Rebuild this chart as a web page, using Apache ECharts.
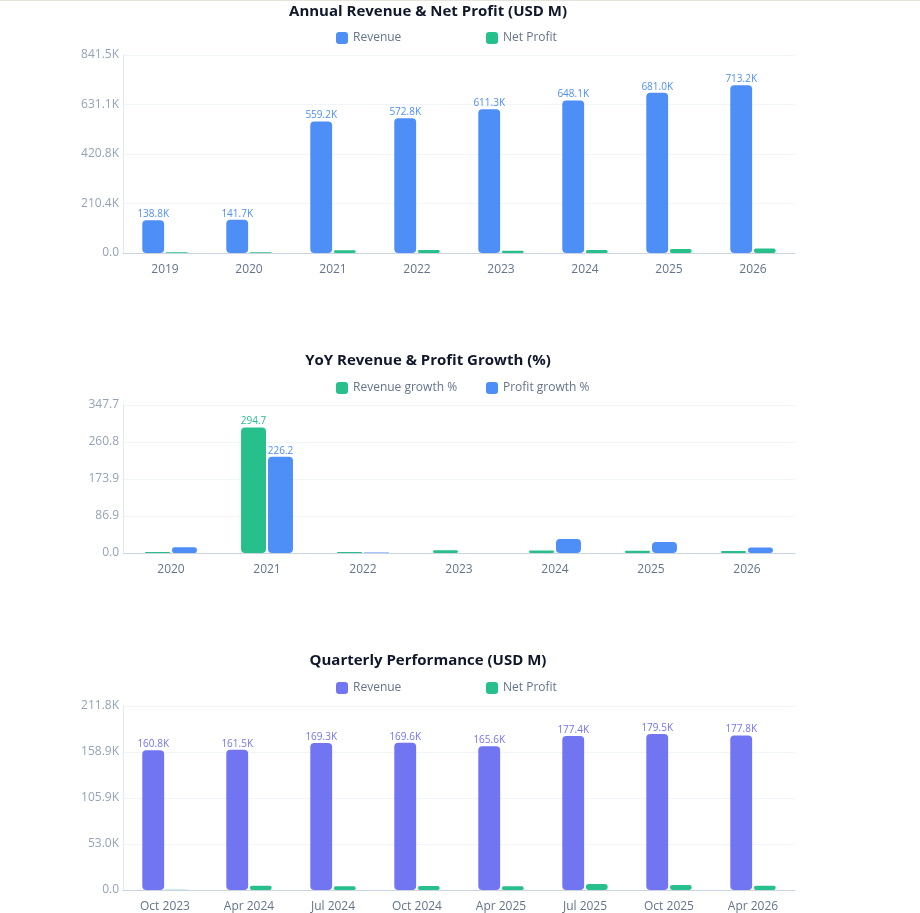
<!DOCTYPE html>
<html>
<head>
<meta charset="utf-8">
<script src="https://cdn.jsdelivr.net/npm/echarts@6/dist/echarts.min.js"></script>
<style>
  html, body { margin: 0; padding: 0; background: #fff; }
  body { border-top: 1px solid #e4e4dc; }
  #container { width: 856px; height: 912px; }
</style>
</head>
<body>
<div id="container"></div>
<script>
// annual figures (K)
var years = ['2019', '2020', '2021', '2022', '2023', '2024', '2025', '2026'];
var annualRevenue = [138.8, 141.7, 559.2, 572.8, 611.3, 648.1, 681.0, 713.16];
var annualProfit = [3.2, 3.6, 12.0, 12.3, 9.6, 13.2, 16.8, 19.2];

// year over year growth (%)
var growthYears = ['2020', '2021', '2022', '2023', '2024', '2025', '2026'];
var revenueGrowth = [2.1, 294.7, 2.4, 6.7, 6.0, 5.1, 4.7];
var profitGrowth = [13.3, 226.2, 1.0, -26.0, 33.0, 25.9, 13.0];

// quarterly figures (K)
var quarters = ['Oct 2023', 'Apr 2024', 'Jul 2024', 'Oct 2024', 'Apr 2025', 'Jul 2025', 'Oct 2025', 'Apr 2026'];
var quarterRevenue = [160.8, 161.5, 169.3, 169.6, 165.6, 177.4, 179.5, 177.8];
var quarterProfit = [0.4, 5.0, 4.2, 4.6, 4.2, 6.9, 5.7, 5.0];

var BLUE = '#3b82f6', GREEN = '#10b981', INDIGO = '#6366f1';
var FONT = 'Open Sans';

var dom = document.getElementById('container');
var myChart = echarts.init(dom);

function axisMax(arrs) {
    var m = 0;
    arrs.forEach(function (a) { a.forEach(function (v) { if (v > m) m = v; }); });
    return m * 1.18;
}

var max1 = axisMax([annualRevenue, annualProfit]);
var max2 = axisMax([revenueGrowth, profitGrowth]);
var max3 = axisMax([quarterRevenue, quarterProfit]);

function title(text, top) {
    return {
        text: text, left: 'center', top: top,
        textStyle: { fontFamily: FONT, fontSize: 15, fontWeight: 'bold', color: '#0f172a' }
    };
}

// one legend per item so both items sit at fixed positions
function legendItem(name, left, top) {
    return {
        data: [name], left: left, top: top,
        icon: 'roundRect', itemWidth: 12, itemHeight: 12,
        formatter: function (n) { return n.replace('Quarterly ', ''); },
        textStyle: { fontFamily: FONT, fontSize: 12, color: '#64748b' }
    };
}

function xAxis(idx, cats) {
    return {
        type: 'category', gridIndex: idx, data: cats,
        axisLine: { lineStyle: { color: '#cbd5e1' } },
        axisTick: { show: false },
        axisLabel: { fontFamily: FONT, fontSize: 12, color: '#64748b', margin: 11 }
    };
}

function yAxis(idx, max, suffix) {
    return {
        type: 'value', gridIndex: idx, min: 0, max: max, interval: max / 4,
        axisLine: { show: true, lineStyle: { color: '#e2e8f0' } },
        axisTick: { show: false },
        splitLine: { lineStyle: { color: '#f1f5f9' } },
        axisLabel: {
            fontFamily: FONT, fontSize: 12, color: '#94a3b8', margin: 4,
            formatter: function (v) { return v === 0 ? '0.0' : v.toFixed(1) + suffix; }
        }
    };
}

function bars(name, idx, data, color, max, suffix) {
    return {
        name: name, type: 'bar', xAxisIndex: idx, yAxisIndex: idx, data: data,
        barWidth: '26%', barGap: '8%',
        itemStyle: { color: color, opacity: 0.9, borderRadius: 4 },
        label: {
            show: true, position: 'top', distance: 1,
            fontFamily: FONT, fontSize: 10, color: color,
            formatter: function (p) {
                return p.value > max * 0.15 ? p.value.toFixed(1) + suffix : '';
            }
        }
    };
}

var option = {
    animation: false,
    title: [
        title('Annual Revenue & Net Profit (USD M)', -2),
        title('YoY Revenue & Profit Growth (%)', 347),
        title('Quarterly Performance (USD M)', 647)
    ],
    legend: [
        legendItem('Revenue', 331, 26),
        legendItem('Net Profit', 481, 26),
        legendItem('Revenue growth %', 331, 376),
        legendItem('Profit growth %', 481, 376),
        legendItem('Quarterly Revenue', 331, 676),
        legendItem('Quarterly Net Profit', 481, 676)
    ],
    grid: [
        { left: 123, right: 61, top: 54, height: 198 },
        { left: 123, right: 61, top: 404, height: 148 },
        { left: 123, right: 61, top: 705, height: 184 }
    ],
    xAxis: [xAxis(0, years), xAxis(1, growthYears), xAxis(2, quarters)],
    yAxis: [yAxis(0, max1, 'K'), yAxis(1, max2, ''), yAxis(2, max3, 'K')],
    series: [
        bars('Revenue', 0, annualRevenue, BLUE, max1, 'K'),
        bars('Net Profit', 0, annualProfit, GREEN, max1, 'K'),
        bars('Revenue growth %', 1, revenueGrowth, GREEN, max2, ''),
        bars('Profit growth %', 1, profitGrowth, BLUE, max2, ''),
        bars('Quarterly Revenue', 2, quarterRevenue, INDIGO, max3, 'K'),
        bars('Quarterly Net Profit', 2, quarterProfit, GREEN, max3, 'K')
    ]
};

myChart.setOption(option);
</script>
</body>
</html>
